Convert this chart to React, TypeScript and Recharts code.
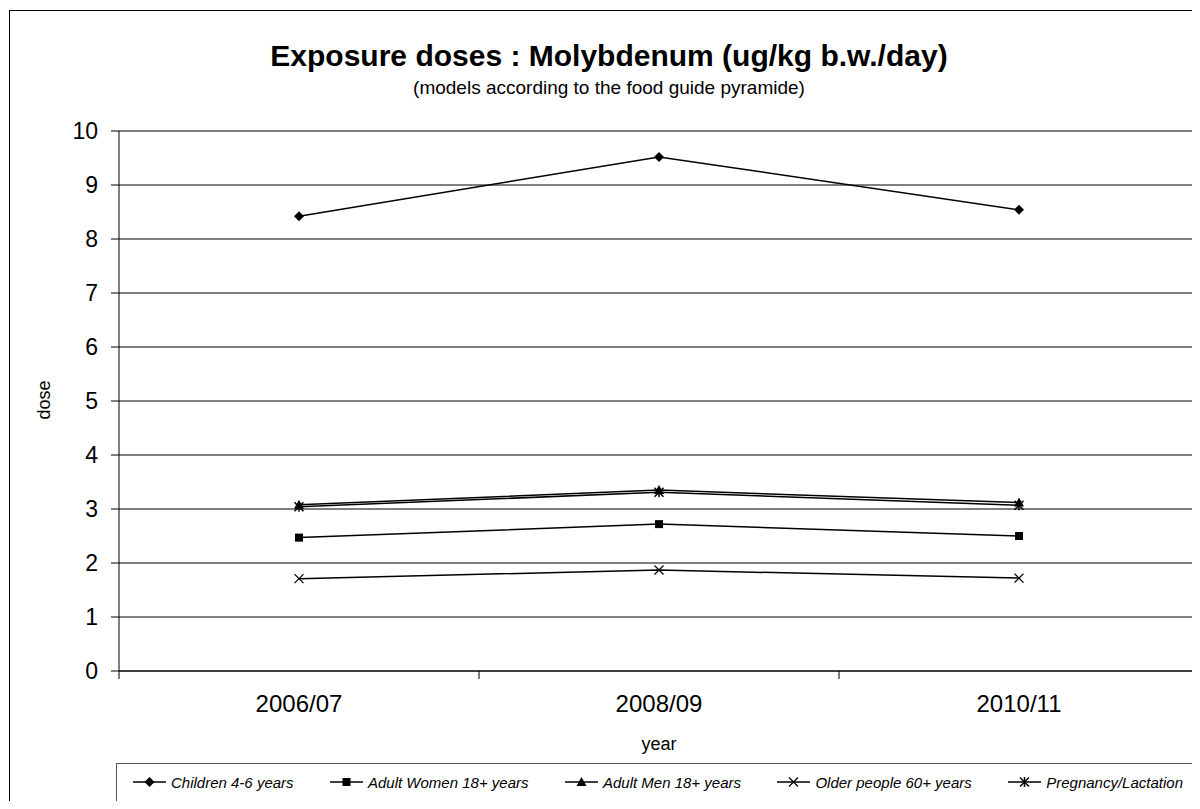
import React from "react";
import { LineChart, Line, XAxis, YAxis, CartesianGrid } from "recharts";

const years = ["2006/07", "2008/09", "2010/11"];
const children = [8.42, 9.52, 8.54];
const women = [2.47, 2.72, 2.5];
const men = [3.08, 3.35, 3.12];
const older = [1.71, 1.87, 1.72];
const pregnancy = [3.04, 3.31, 3.07];
const yTicks = [0, 1, 2, 3, 4, 5, 6, 7, 8, 9, 10];

const data = years.map((year, i) => ({
  year,
  children: children[i],
  women: women[i],
  men: men[i],
  older: older[i],
  pregnancy: pregnancy[i],
}));

type Shape = "diamond" | "square" | "triangle" | "x" | "star";

function marker(shape: Shape, cx: number, cy: number, key?: any) {
  const s = 5;
  switch (shape) {
    case "diamond":
      return <path key={key} d={`M${cx},${cy - s} L${cx + s},${cy} L${cx},${cy + s} L${cx - s},${cy} Z`} fill="#000" />;
    case "square":
      return <rect key={key} x={cx - 4} y={cy - 4} width={8} height={8} fill="#000" />;
    case "triangle":
      return <path key={key} d={`M${cx},${cy - s} L${cx + s},${cy + 4} L${cx - s},${cy + 4} Z`} fill="#000" />;
    case "x":
      return (
        <g key={key} stroke="#000" strokeWidth={1.3}>
          <line x1={cx - 4.5} y1={cy - 4.5} x2={cx + 4.5} y2={cy + 4.5} />
          <line x1={cx - 4.5} y1={cy + 4.5} x2={cx + 4.5} y2={cy - 4.5} />
        </g>
      );
    case "star":
      return (
        <g key={key} stroke="#000" strokeWidth={1.5}>
          <line x1={cx} y1={cy - 5} x2={cx} y2={cy + 5} />
          <line x1={cx - 4.5} y1={cy - 4.5} x2={cx + 4.5} y2={cy + 4.5} />
          <line x1={cx - 4.5} y1={cy + 4.5} x2={cx + 4.5} y2={cy - 4.5} />
        </g>
      );
  }
}

const series: { key: string; name: string; shape: Shape }[] = [
  { key: "children", name: "Children 4-6 years", shape: "diamond" },
  { key: "women", name: "Adult Women 18+ years", shape: "square" },
  { key: "men", name: "Adult Men 18+ years", shape: "triangle" },
  { key: "older", name: "Older people 60+ years", shape: "x" },
  { key: "pregnancy", name: "Pregnancy/Lactation", shape: "star" },
];

const font = "'Liberation Sans', Arial, sans-serif";
const HALF_BAND = 180; // plot width 1080 / 3 categories / 2

// category label plus Excel-style tick marks between categories
function YearTick(props: any) {
  const { x, y, payload, index, visibleTicksCount } = props;
  const last = index === (visibleTicksCount ?? years.length) - 1;
  return (
    <g>
      <line x1={x - HALF_BAND} y1={y} x2={x - HALF_BAND} y2={y + 8} stroke="#000" />
      {last && <line x1={x + HALF_BAND} y1={y} x2={x + HALF_BAND} y2={y + 8} stroke="#000" />}
      <text x={x} y={y + 24} dy="0.71em" textAnchor="middle" fill="#000" fontSize={24} fontFamily={font}>
        {payload.value}
      </text>
    </g>
  );
}

function LegendBox() {
  return (
    <div
      style={{
        display: "flex",
        alignItems: "center",
        justifyContent: "space-between",
        height: 36,
        paddingLeft: 16,
        paddingRight: 16,
        fontFamily: font,
        fontStyle: "italic",
        fontSize: 15,
        color: "#000",
      }}
    >
      {series.map((s) => (
        <div key={s.key} style={{ display: "flex", alignItems: "center", gap: 5 }}>
          <svg width={33} height={12}>
            <line x1={0} y1={6} x2={33} y2={6} stroke="#000" strokeWidth={1.5} />
            {marker(s.shape, 16.5, 6)}
          </svg>
          <span>{s.name}</span>
        </div>
      ))}
    </div>
  );
}

export default function App() {
  return (
    <div style={{ position: "relative", width: 1192, height: 793, fontFamily: font, overflow: "hidden" }}>
      <div
        style={{
          position: "absolute",
          left: 1,
          top: 2,
          width: 1191,
          height: 820,
          border: "1px solid #000",
          boxSizing: "border-box",
        }}
      />
      <div style={{ position: "absolute", left: 0, width: 1202, top: 31, textAlign: "center", fontSize: 30, fontWeight: "bold" }}>
        Exposure doses : Molybdenum (ug/kg b.w./day)
      </div>
      <div style={{ position: "absolute", left: 0, width: 1202, top: 69, textAlign: "center", fontSize: 19 }}>
        (models according to the food guide pyramide)
      </div>
      <div
        style={{
          position: "absolute",
          left: 36,
          top: 392,
          fontSize: 18,
          transform: "translate(-50%, -50%) rotate(-90deg)",
        }}
      >
        dose
      </div>
      <div style={{ position: "absolute", left: 0, width: 1302, top: 726, textAlign: "center", fontSize: 18 }}>
        year
      </div>
      <div
        style={{
          position: "absolute",
          left: 108,
          top: 755,
          width: 1084,
          height: 60,
          border: "1px solid #555",
          boxSizing: "border-box",
        }}
      >
        <LegendBox />
      </div>
      <div style={{ position: "absolute", left: 0, top: 0 }}>
        <LineChart
          width={1192}
          height={793}
          data={data}
          margin={{ top: 123, right: 1, bottom: 0, left: 51 }}
        >
          <CartesianGrid vertical={false} stroke="#000" strokeWidth={1} />
          <XAxis
            dataKey="year"
            type="category"
            stroke="#000"
            tickLine={false}
            tickSize={0}
            tickMargin={0}
            height={130}
            interval={0}
            padding={{ left: HALF_BAND, right: HALF_BAND }}
            tick={<YearTick />}
          />
          <YAxis
            domain={[0, 10]}
            ticks={yTicks}
            width={60}
            tickSize={8}
            tickMargin={13}
            stroke="#000"
            tick={{ fill: "#000", fontSize: 23, fontFamily: font }}
          />
          {series.map((s) => (
            <Line
              key={s.key}
              dataKey={s.key}
              name={s.name}
              stroke="#000"
              strokeWidth={1.5}
              isAnimationActive={false}
              dot={(p: any) => marker(s.shape, p.cx, p.cy, p.key ?? `${s.key}-${p.index}`)}
              activeDot={false}
            />
          ))}
        </LineChart>
      </div>
    </div>
  );
}
